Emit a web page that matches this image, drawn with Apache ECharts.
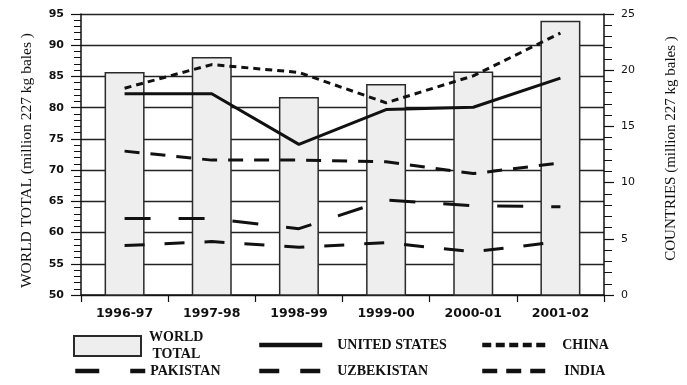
<!DOCTYPE html>
<html>
<head>
<meta charset="utf-8">
<script src="https://cdn.jsdelivr.net/npm/echarts@6/dist/echarts.min.js"></script>
<style>
html,body{margin:0;padding:0;background:#fff;}
#chart{width:687px;height:385px;}
</style>
</head>
<body>
<div id="chart"></div>
<script>
// ---- data ----
const categories = ['1996-97', '1997-98', '1998-99', '1999-00', '2000-01', '2001-02'];
const worldTotal   = [85.7, 88.1, 81.7, 83.8, 85.8, 93.9];   // left axis
const unitedStates = [17.9, 17.9, 13.4, 16.5, 16.7, 19.3];   // right axis
const china        = [18.4, 20.5, 19.8, 17.1, 19.5, 23.3];
const pakistan     = [6.8, 6.8, 5.9, 8.45, 7.95, 7.85];
const uzbekistan   = [4.4, 4.75, 4.25, 4.65, 3.85, 4.75];
const india        = [12.8, 12.0, 12.0, 11.85, 10.8, 11.75];
const leftAxisRange  = [50, 95, 5];
const rightAxisRange = [0, 25, 5];
const leftAxisTitle  = 'WORLD TOTAL (million 227 kg bales )';
const rightAxisTitle = 'COUNTRIES (million 227 kg bales )';

const ink = '#111';
const serif = '"Liberation Serif", "DejaVu Serif", serif';
const sans = '"DejaVu Sans", sans-serif';

const chart = echarts.init(document.getElementById('chart'), null, {renderer: 'canvas'});

function lineSeries(name, data, dash) {
  return {
    name: name, type: 'line', yAxisIndex: 1, data: data,
    symbol: 'none', z: 5,
    lineStyle: {color: ink, width: 3, type: dash},
    itemStyle: {color: ink}
  };
}

const legendText = {fontFamily: serif, fontSize: 14, fontWeight: 'bold', color: ink};
function lineLegend(name, left, top, width, dash, gap) {
  return {
    data: [name], left: left, top: top, padding: 0,
    itemWidth: width, itemHeight: 14,
    itemStyle: {opacity: 0},
    lineStyle: {width: 4.5, type: dash, color: ink},
    textStyle: Object.assign({}, legendText, {padding: [0, 0, 0, gap]}),
    selectedMode: false
  };
}

const option = {
  animation: false,
  backgroundColor: '#fff',
  grid: {left: 81, right: 74, top: 14, bottom: 90},
  xAxis: {
    type: 'category', data: categories, boundaryGap: true,
    axisLine: {lineStyle: {color: ink, width: 1.5}},
    axisTick: {show: true, length: 7, lineStyle: {color: ink, width: 1.2}},
    axisLabel: {fontFamily: sans, fontWeight: 'bold', fontSize: 12.5, color: ink, margin: 12},
    splitLine: {show: false}
  },
  yAxis: [
    {
      type: 'value', position: 'left',
      min: leftAxisRange[0], max: leftAxisRange[1], interval: leftAxisRange[2],
      name: leftAxisTitle, nameLocation: 'middle', nameGap: 46, nameRotate: 90,
      nameTextStyle: {fontFamily: serif, fontSize: 15.5, color: ink, padding: [0, 12, 0, 0]},
      axisLine: {show: true, lineStyle: {color: ink, width: 1.5}},
      axisTick: {show: true, length: 10, lineStyle: {color: ink, width: 1.2}},
      minorTick: {show: true, splitNumber: 5, length: 7, lineStyle: {color: ink, width: 1}},
      axisLabel: {fontFamily: sans, fontWeight: 'bold', fontSize: 11, color: ink, margin: 17},
      splitLine: {show: true, lineStyle: {color: '#222', width: 1.3}}
    },
    {
      type: 'value', position: 'right',
      min: rightAxisRange[0], max: rightAxisRange[1], interval: rightAxisRange[2],
      name: rightAxisTitle, nameLocation: 'middle', nameGap: 60, nameRotate: 90,
      nameTextStyle: {fontFamily: serif, fontSize: 15, color: ink, padding: [0, 0, 0, 12]},
      axisLine: {show: true, lineStyle: {color: ink, width: 1.5}},
      axisTick: {show: true, length: 10, lineStyle: {color: ink, width: 1.2}},
      minorTick: {show: true, splitNumber: 5, length: 8, lineStyle: {color: ink, width: 1}},
      axisLabel: {fontFamily: sans, fontSize: 11, color: ink, margin: 17},
      splitLine: {show: false}
    }
  ],
  legend: [
    {
      data: ['WORLD TOTAL'], left: 73, top: 329, padding: 0,
      itemWidth: 67, itemHeight: 20, icon: 'rect', selectedMode: false,
      formatter: function () { return 'WORLD\n TOTAL'; },
      textStyle: Object.assign({}, legendText, {lineHeight: 17, padding: [0, 0, 0, 3]})
    },
    lineLegend('UNITED STATES', 257, 338, 63, 'solid', 10),
    lineLegend('CHINA', 480, 338, 63, [9, 4.5], 12),
    lineLegend('PAKISTAN', 73, 364, 70, [24, 31], 0),
    lineLegend('UZBEKISTAN', 257, 364, 63, [20, 21], 10),
    lineLegend('INDIA', 480, 364, 63, [15, 9], 14)
  ],
  series: [
    {
      name: 'WORLD TOTAL', type: 'bar', yAxisIndex: 0, data: worldTotal,
      barWidth: 40, z: 2,
      itemStyle: {color: '#eeeeee', borderColor: '#2a2a2a', borderWidth: 1.5}
    },
    lineSeries('UNITED STATES', unitedStates, 'solid'),
    lineSeries('CHINA', china, [7, 5]),
    lineSeries('PAKISTAN', pakistan, [26, 28]),
    lineSeries('UZBEKISTAN', uzbekistan, [20, 20]),
    lineSeries('INDIA', india, [15, 11])
  ]
};
chart.setOption(option);
</script>
</body>
</html>
